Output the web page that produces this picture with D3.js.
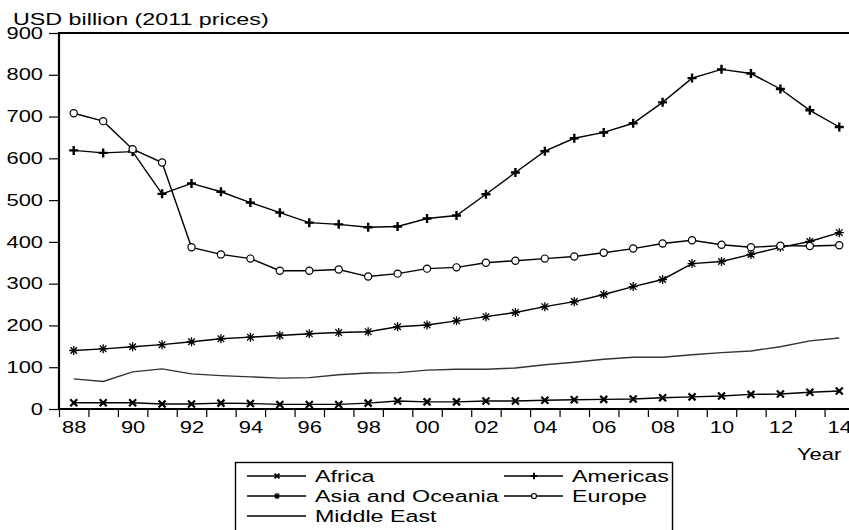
<!DOCTYPE html>
<html lang="en">
<head>
<meta charset="UTF-8" />
<title>Military expenditure by region</title>
<script src="https://cdn.jsdelivr.net/npm/d3@7"></script>
<style>
    body { margin: 0; background: #fff; }
    svg text { font-family: "Liberation Sans", Arial, sans-serif; fill: #000; }
</style>
</head>
<body>
<svg id="chart" width="849" height="530"></svg>
<script>
    // data (USD billion, 2011 prices)
    const years = [1988, 1989, 1990, 1991, 1992, 1993, 1994, 1995, 1996, 1997, 1998, 1999, 2000,
        2001, 2002, 2003, 2004, 2005, 2006, 2007, 2008, 2009, 2010, 2011, 2012, 2013, 2014];
    const africa = [15, 15, 15, 12, 12, 14, 13, 11, 11, 11, 14, 19, 17, 17, 19, 19, 21, 22, 23, 24, 27, 29, 31, 35, 36, 40, 43];
    const americas = [619, 613, 616, 515, 540, 520, 494, 470, 446, 442, 435, 437, 456, 463, 514, 566, 617, 648, 662, 684, 734, 792, 813, 803, 766, 715, 675];
    const asia = [140, 144, 149, 154, 161, 168, 172, 176, 180, 183, 185, 197, 201, 211, 221, 231, 245, 257, 274, 293, 310, 348, 353, 370, 387, 401, 422];
    const europe = [708, 689, 622, 590, 387, 370, 360, 331, 331, 334, 317, 324, 336, 339, 350, 355, 360, 365, 374, 384, 396, 404, 393, 387, 391, 390, 392];
    const middleEast = [72, 66, 89, 96, 84, 80, 77, 74, 75, 82, 86, 87, 93, 95, 95, 98, 106, 112, 119, 124, 124, 130, 135, 139, 149, 163, 170];
    const yTicks = [0, 100, 200, 300, 400, 500, 600, 700, 800, 900];
    const labelYears = [1988, 1990, 1992, 1994, 1996, 1998, 2000, 2002, 2004, 2006, 2008, 2010, 2012, 2014];

    const svg = d3.select("#chart");
    const plotLeft = 59, plotRight = 854, plotTop = 33, plotBottom = 409;
    const stretch = 1.37; // the original text is drawn wide

    const x = d3.scaleLinear().domain([1987.5, 2014.5]).range([plotLeft, plotRight]);
    const y = d3.scaleLinear().domain([0, 900]).range([plotBottom, plotTop]);

    // widen a text horizontally around its own x position
    function widen(sel) {
        sel.each(function () {
            const t = d3.select(this);
            const tx = +t.attr("x") || 0;
            t.attr("transform", `translate(${tx},0) scale(${stretch},1) translate(${-tx},0)`);
        });
    }

    // marker shapes
    const markers = {
        x: "M-3.5,-3.5L3.5,3.5M-3.5,3.5L3.5,-3.5",
        plus: "M-4.5,0H4.5M0,-4.5V4.5",
        star: "M-4.5,0H4.5M0,-4.5V4.5M-3.3,-3.3L3.3,3.3M-3.3,3.3L3.3,-3.3"
    };

    const series = [
        { name: "Africa", values: africa, marker: "x", mw: 2.2 },
        { name: "Americas", values: americas, marker: "plus", mw: 2.4 },
        { name: "Asia and Oceania", values: asia, marker: "star", mw: 1.3 },
        { name: "Europe", values: europe, marker: "circle" },
        { name: "Middle East", values: middleEast, marker: null }
    ];

    // y axis
    svg.append("g")
        .attr("transform", `translate(${plotLeft},0)`)
        .call(d3.axisLeft(y).tickValues(yTicks).tickSize(10).tickPadding(6))
        .call(g => g.select(".domain").remove())
        .call(g => g.selectAll("line").attr("stroke", "#000").attr("stroke-width", 1.2))
        .call(g => g.selectAll("text").attr("font-size", 16).attr("font-family", "Liberation Sans, Arial, sans-serif").call(widen));

    // x axis: ticks between years, labels on even years
    const boundaries = years.map(yr => yr + 0.5);
    svg.append("g")
        .attr("transform", `translate(0,${plotBottom})`)
        .call(d3.axisBottom(x).tickValues([1987.5].concat(boundaries)).tickSize(8).tickFormat(""))
        .call(g => g.select(".domain").remove())
        .call(g => g.selectAll("line").attr("stroke", "#000").attr("stroke-width", 1.2));
    svg.append("g")
        .attr("transform", `translate(0,${plotBottom})`)
        .call(d3.axisBottom(x).tickValues(labelYears).tickSize(0).tickPadding(13)
            .tickFormat(d => String(d % 100).padStart(2, "0")))
        .call(g => g.select(".domain").remove())
        .call(g => g.selectAll("text").attr("font-size", 16).attr("font-family", "Liberation Sans, Arial, sans-serif").call(widen));

    // frame
    svg.append("path")
        .attr("d", `M${plotRight},${plotTop}H${plotLeft}V${plotBottom}H${plotRight}`)
        .attr("fill", "none").attr("stroke", "#000").attr("stroke-width", 2.2);

    svg.append("text").attr("x", 13).attr("y", 25).attr("font-size", 17).text("USD billion (2011 prices)").call(widen);
    svg.append("text").attr("x", 797).attr("y", 460).attr("font-size", 16).text("Year").call(widen);

    const line = d3.line().x((d, i) => x(years[i])).y(d => y(d));

    function drawMarker(g, s, cx, cy, scale) {
        if (s.marker === "circle") {
            g.append("circle").attr("cx", cx).attr("cy", cy).attr("r", 3.6 * scale)
                .attr("fill", "#fff").attr("stroke", "#000").attr("stroke-width", 1.2);
        } else if (s.marker) {
            g.append("path").attr("d", markers[s.marker])
                .attr("transform", `translate(${cx},${cy}) scale(${scale})`)
                .attr("fill", "none").attr("stroke", "#000").attr("stroke-width", s.mw / Math.sqrt(scale));
        }
    }

    series.forEach(s => {
        const g = svg.append("g");
        g.append("path").datum(s.values)
            .attr("d", line)
            .attr("fill", "none")
            .attr("stroke", s.marker ? "#000" : "#333")
            .attr("stroke-width", 1.4);
        s.values.forEach((v, i) => drawMarker(g, s, x(years[i]), y(v), 1));
    });

    // legend
    const lg = svg.append("g");
    lg.append("rect").attr("x", 235.5).attr("y", 462.5).attr("width", 437).attr("height", 80)
        .attr("fill", "#fff").attr("stroke", "#000").attr("stroke-width", 1.4);
    const legendPos = [
        { s: series[0], x: 247, y: 476 },
        { s: series[1], x: 504, y: 476 },
        { s: series[2], x: 247, y: 496 },
        { s: series[3], x: 504, y: 496 },
        { s: series[4], x: 247, y: 516 }
    ];
    legendPos.forEach(p => {
        lg.append("line").attr("x1", p.x).attr("x2", p.x + 59).attr("y1", p.y).attr("y2", p.y)
            .attr("stroke", "#000").attr("stroke-width", 1.4);
        drawMarker(lg, p.s, p.x + 30, p.y, 0.7);
        lg.append("text").attr("x", p.x + 68).attr("y", p.y + 6).attr("font-size", 17).text(p.s.name).call(widen);
    });
</script>
</body>
</html>
